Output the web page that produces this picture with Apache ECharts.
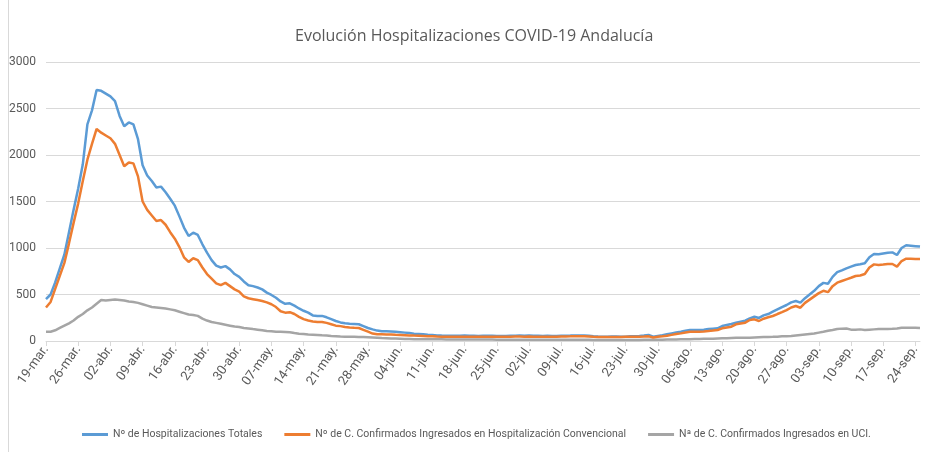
<!DOCTYPE html>
<html>
<head>
<meta charset="utf-8">
<title>Evolución Hospitalizaciones COVID-19 Andalucía</title>
<script src="https://cdn.jsdelivr.net/npm/echarts@6/dist/echarts.min.js"></script>
<style>
  html, body { margin: 0; padding: 0; background: #fff; }
  #main { width: 925px; height: 452px; }
</style>
</head>
<body>
<div id="main"></div>
<script>
// meses para las etiquetas del eje (19-mar. ... 25-sep.)
var meses = ['ene', 'feb', 'mar', 'abr', 'may', 'jun', 'jul', 'ago', 'sep', 'oct', 'nov', 'dic'];
var fechaInicio = [2020, 2, 19];
var numDias = 191;

var yTicks = [0, 500, 1000, 1500, 2000, 2500, 3000];

var nombres = [
    'Nº de Hospitalizaciones Totales',
    'Nº de C. Confirmados Ingresados en Hospitalización Convencional',
    'Nª de C. Confirmados Ingresados en UCI.'
];

// Nº de Hospitalizaciones Totales
var totales = [
    450, 500, 630, 780, 930, 1170, 1410,
    1640, 1900, 2330, 2480, 2700, 2690, 2660,
    2630, 2580, 2420, 2310, 2350, 2330, 2170,
    1890, 1780, 1720, 1650, 1660, 1600, 1530,
    1455, 1340, 1220, 1130, 1165, 1140, 1040,
    950, 870, 810, 790, 805, 770, 720,
    690, 640, 600, 590, 575, 555, 520,
    495, 465, 425, 400, 405, 380, 350,
    325, 305, 275, 270, 270, 255, 235,
    215, 200, 190, 185, 183, 180, 160,
    140, 125, 112, 105, 105, 103, 100,
    95, 90, 85, 78, 75, 72, 68,
    65, 60, 58, 57, 57, 56, 57,
    58, 57, 56, 55, 56, 57, 56,
    55, 54, 55, 56, 57, 58, 57,
    58, 57, 56, 55, 56, 55, 55,
    56, 57, 58, 60, 59, 58, 57,
    52, 48, 47, 47, 48, 48, 47,
    47, 50, 52, 54, 58, 65, 47,
    55, 62, 72, 82, 92, 100, 110,
    118, 118, 118, 122, 129, 133, 136,
    161, 172, 183, 197, 208, 218, 244,
    261, 248, 275, 290, 315, 340, 365,
    387, 415, 430, 412, 460, 500, 540,
    590, 625, 615, 690, 740, 760, 781,
    800, 817, 825, 835, 900, 935, 932,
    940, 948, 953, 925, 1000, 1030, 1025,
    1020, 1015
];

// Nº de C. Confirmados Ingresados en Hospitalización Convencional
var convencional = [
    360, 420, 560, 700, 840, 1050, 1270,
    1480, 1720, 1950, 2120, 2280, 2240, 2210,
    2180, 2120, 2000, 1880, 1920, 1910, 1770,
    1500, 1410, 1350, 1290, 1300, 1250, 1170,
    1100, 1010, 900, 850, 890, 870, 790,
    720, 670, 620, 600, 625, 590, 555,
    530, 480, 460, 450, 440, 430, 415,
    395, 365, 320, 305, 310, 290, 260,
    235, 220, 210, 205, 205, 195, 180,
    165, 160, 150, 145, 142, 140, 120,
    100, 80, 72, 72, 70, 70, 67,
    65, 63, 60, 58, 57, 55, 52,
    50, 48, 47, 47, 46, 46, 47,
    47, 46, 46, 45, 46, 47, 46,
    45, 45, 46, 47, 48, 48, 47,
    48, 47, 46, 46, 47, 46, 47,
    48, 49, 50, 52, 51, 50, 49,
    45, 43, 42, 42, 43, 43, 44,
    45, 45, 46, 47, 48, 50, 38,
    45, 50, 57, 66, 75, 82, 92,
    100, 100, 100, 103, 107, 112, 118,
    136, 145, 154, 179, 188, 197, 226,
    233, 215, 240, 255, 269, 290, 310,
    333, 360, 376, 358, 410, 445, 480,
    515, 540, 525, 590, 627, 645, 663,
    680, 699, 705, 720, 790, 824, 817,
    822, 828, 828, 800, 860, 885, 885,
    882, 882
];

// Nª de C. Confirmados Ingresados en UCI
var uci = [
    100, 100, 115, 140, 165, 190, 220,
    260, 290, 330, 360, 400, 440, 435,
    440, 445, 440, 435, 425, 420, 410,
    395, 380, 365, 360, 355, 350, 340,
    330, 315, 300, 285, 280, 270, 240,
    220, 205, 195, 185, 175, 165, 155,
    150, 140, 135, 128, 122, 116, 108,
    105, 100, 100, 98, 93, 85, 78,
    75, 70, 68, 65, 62, 60, 55,
    52, 48, 46, 45, 45, 44, 42,
    40, 38, 36, 32, 30, 28, 26,
    24, 22, 22, 20, 20, 19, 19,
    18, 18, 18, 17, 17, 17, 16,
    16, 16, 15, 15, 15, 15, 15,
    14, 14, 14, 14, 14, 14, 14,
    13, 13, 13, 13, 13, 13, 13,
    13, 13, 13, 13, 13, 13, 13,
    12, 12, 12, 12, 12, 12, 12,
    12, 12, 12, 12, 13, 13, 13,
    14, 14, 15, 16, 17, 18, 19,
    20, 21, 22, 23, 24, 25, 27,
    29, 30, 32, 34, 35, 36, 36,
    38, 40, 42, 44, 45, 47, 50,
    52, 55, 60, 65, 70, 75, 80,
    90, 100, 110, 118, 128, 133, 135,
    122, 120, 125, 118, 122, 125, 128,
    130, 130, 132, 135, 142, 143, 143,
    142, 140
];

var fechas = [];
for (var i = 0; i < numDias; i++) {
    var d = new Date(fechaInicio[0], fechaInicio[1], fechaInicio[2] + i);
    var dd = d.getDate() < 10 ? '0' + d.getDate() : '' + d.getDate();
    fechas.push(dd + '-' + meses[d.getMonth()] + '.');
}

var myChart = echarts.init(document.getElementById('main'));
var gris = '#595959';

var option = {
    animation: false,
    color: ['#5B9BD5', '#ED7D31', '#A5A5A5'],
    title: {
        text: 'Evolución Hospitalizaciones COVID-19 Andalucía',
        left: 290,
        top: 23,
        textStyle: {
            color: gris,
            fontSize: 16,
            fontWeight: 'normal',
            fontFamily: 'Open Sans'
        }
    },
    graphic: [{
        type: 'line',
        shape: { x1: 8.5, y1: 0, x2: 8.5, y2: 452 },
        style: { stroke: '#D9D9D9', lineWidth: 1 }
    }],
    legend: {
        bottom: 7,
        left: 77,
        itemWidth: 26,
        itemHeight: 3,
        itemGap: 22,
        icon: 'rect',
        textStyle: { color: gris, fontSize: 10.5, fontFamily: 'Roboto' },
        data: nombres
    },
    grid: {
        left: 46,
        right: 5,
        top: 62,
        bottom: 111
    },
    xAxis: {
        type: 'category',
        boundaryGap: false,
        data: fechas,
        axisLine: { lineStyle: { color: '#D9D9D9' } },
        axisTick: {
            interval: 6,
            length: 5,
            lineStyle: { color: '#D9D9D9' }
        },
        axisLabel: {
            interval: 6,
            rotate: 55,
            color: gris,
            fontSize: 13,
            fontFamily: 'Roboto',
            margin: 6
        }
    },
    yAxis: {
        type: 'value',
        min: yTicks[0],
        max: yTicks[yTicks.length - 1],
        interval: 500,
        axisLine: { show: false },
        axisTick: { show: false },
        axisLabel: {
            color: gris,
            fontSize: 12,
            fontFamily: 'Roboto',
            margin: 10,
            formatter: function (v) { return String(v); }
        },
        splitLine: { lineStyle: { color: '#D9D9D9' } }
    },
    series: [
        {
            name: nombres[0],
            type: 'line',
            data: totales,
            showSymbol: false,
            lineStyle: { width: 2.5 },
            z: 3
        },
        {
            name: nombres[1],
            type: 'line',
            data: convencional,
            showSymbol: false,
            lineStyle: { width: 2.5 },
            z: 4
        },
        {
            name: nombres[2],
            type: 'line',
            data: uci,
            showSymbol: false,
            lineStyle: { width: 2.5 },
            z: 2
        }
    ]
};

if (option && typeof option === 'object') {
    myChart.setOption(option, true);
}
</script>
</body>
</html>
